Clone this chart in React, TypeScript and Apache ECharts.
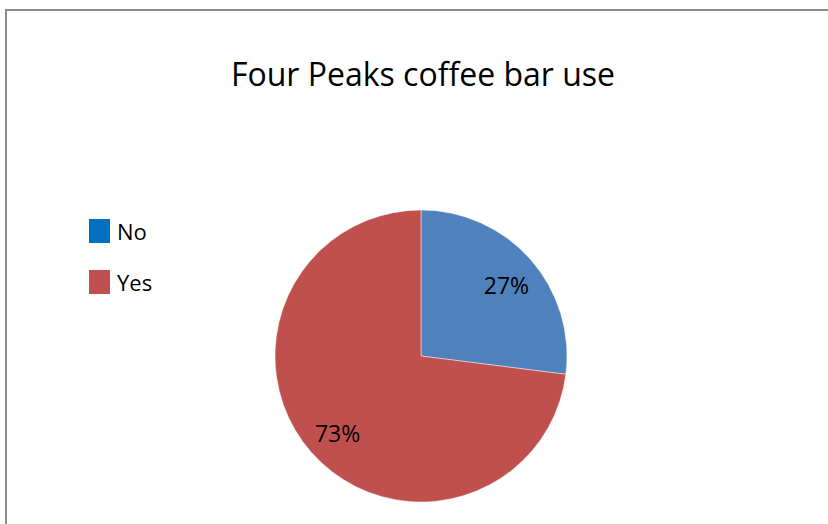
import React, { useEffect, useRef } from "react";
import * as echarts from "echarts";

const title = "Four Peaks coffee bar use";
const categories = ["No", "Yes"];
const values = [27, 73];
const sliceColors = ["#4F81BD", "#C0504D"];
const legendColors = ["#0070C0", "#C0504D"];

export default function App() {
  const ref = useRef<HTMLDivElement>(null);
  useEffect(() => {
    const chart = echarts.init(ref.current!, null, { renderer: "svg" });
    const data = categories.map((name, i) => ({
      name,
      value: values[i],
      itemStyle: { color: sliceColors[i] },
    }));
    const font = "'Open Sans', sans-serif";
    chart.setOption({
      animation: false,
      backgroundColor: "#ffffff",
      title: {
        text: title,
        left: 418,
        textAlign: "center",
        top: 52,
        textStyle: { fontFamily: font, fontSize: 32, fontWeight: "normal", color: "#000" },
      },
      legend: {
        orient: "vertical",
        left: 89,
        top: 219,
        padding: 0,
        itemWidth: 21,
        itemHeight: 24,
        itemGap: 27,
        icon: "rect",
        selectedMode: false,
        data: categories.map((name, i) => ({
          name,
          itemStyle: { color: legendColors[i], borderWidth: 0 },
        })),
        textStyle: { fontFamily: font, fontSize: 22, color: "#000", padding: [0, 0, 0, 2] },
      },
      graphic: [
        {
          type: "rect",
          shape: { x: 6, y: 10, width: 900, height: 600 },
          style: { fill: "none", stroke: "#8c8c8c", lineWidth: 2 },
          silent: true,
        },
      ],
      series: [
        {
          type: "pie",
          center: [421, 356],
          radius: 146,
          startAngle: 90,
          clockwise: true,
          label: { show: false },
          labelLine: { show: false },
          itemStyle: { borderColor: "rgba(255,255,255,0.45)", borderWidth: 1 },
          emphasis: { disabled: true },
          data,
        },
        {
          type: "pie",
          center: [421, 356],
          radius: [73, 146],
          startAngle: 90,
          clockwise: true,
          silent: true,
          emphasis: { disabled: true },
          itemStyle: { color: "transparent", borderWidth: 0 },
          label: {
            show: true,
            position: "inside",
            formatter: "{d}%",
            fontFamily: font,
            fontSize: 23,
            color: "#000",
            offset: [1, 3],
          },
          labelLine: { show: false },
          data: categories.map((name, i) => ({ name, value: values[i] })),
        },
      ],
    });
    return () => chart.dispose();
  }, []);
  return (
    <div
      ref={ref}
      style={{ position: "fixed", left: 0, top: 0, width: 828, height: 524 }}
    />
  );
}
